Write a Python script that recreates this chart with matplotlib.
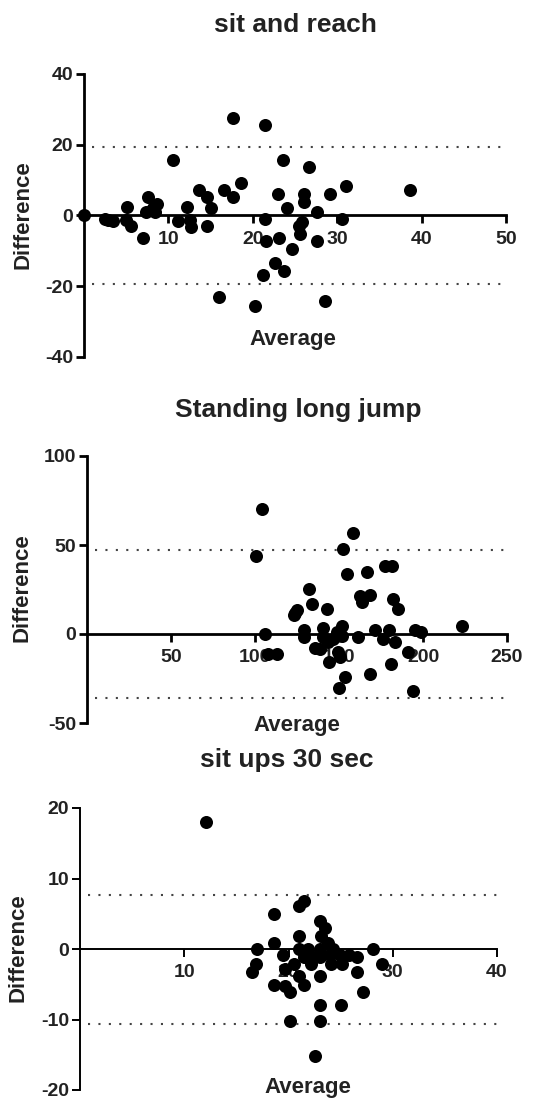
import matplotlib
matplotlib.use('Agg')
import matplotlib.pyplot as plt

plt.rcParams['font.family'] = ['Liberation Sans', 'DejaVu Sans']
plt.rcParams['font.weight'] = 'bold'

W, H = 536, 1100
TEXT = '#222222'

# sit and reach
sr_avg = [0, 2.5, 2.9, 3.4, 5.1, 5.0, 5.6, 7.0, 7.6, 7.4, 8.6, 8.4, 8.2, 10.5, 11.1,
          12.2, 12.5, 12.7, 13.6, 14.6, 15.0, 14.6, 16.0, 16.6, 17.6, 17.6, 18.6, 20.3,
          21.2, 21.5, 21.5, 21.6, 23.0, 23.1, 22.6, 23.7, 23.6, 24.1, 24.6, 25.5, 25.6,
          25.8, 26.1, 26.1, 26.7, 27.6, 27.6, 28.6, 29.1, 30.6, 31.1, 38.6]
sr_diff = [0, -1, -1.2, -1.5, 2.3, -1.2, -3, -6.3, 5.2, 1, 3.2, 1, 2, 15.6, -1.5,
           2.3, -1.2, -3.2, 7.3, 5.2, 2, -3, -23.1, 7.3, 5.2, 27.5, 9.3, -25.5,
           -16.9, 25.5, -1, -7.1, 6.1, -6.5, -13.4, -15.6, 15.6, 2, -9.5, -2.9, -5.2,
           -1.9, 6.1, 3.9, 13.6, 1, -7.1, -24.1, 6.1, -1, 8.3, 7.1]
sr_loa = [19.3, -19.5]

# standing long jump
slj_avg = [104.3, 100.4, 106.2, 107.9, 112.9, 123.4, 124.8, 124.0, 132.3, 134.1,
           129.1, 129.1, 135.7, 138.7, 142.7, 140.7, 140.7, 143.7, 144.2, 146.6,
           149.0, 151.6, 151.6, 149.6, 150.6, 152.6, 154.6, 153.6, 150.2, 158.2,
           161.5, 162.5, 163.5, 166.5, 168.5, 168.5, 171.5, 176.0, 177.4, 181.4,
           179.5, 182.4, 185.4, 183.4, 180.8, 191.3, 194.3, 195.3, 198.7, 223.1]
slj_diff = [70, 43.9, 0, -11, -11, 10.4, 13.7, 12, 25.3, 16.9,
            2.4, -1.7, -7.8, -8.2, 14.1, 3.3, -1.7, -4.5, -15.6, -2.8,
            0.9, 4.6, -0.9, -10.1, -12.9, 47.7, 33.7, -24, -30.2, 57,
            -1.7, 21.6, 17.9, 35, 21.9, -22.7, 2, -2.8, 38, 38,
            2, 19.7, 14.1, -4.5, -16.6, -10.1, -32, 2.4, 1.1, 4.3]
slj_loa = [47.3, -35.8]

# sit ups 30 sec
su_avg = [12.1, 16.5, 16.9, 17.0, 18.6, 18.6, 18.6, 19.5, 19.7, 19.7, 20.1, 20.1,
          20.5, 21.0, 21.5, 21.0, 21.0, 21.0, 21.5, 21.5, 21.9, 22.2, 23.0, 23.5,
          23.1, 23.0, 23.0, 22.5, 23.0, 23.0, 23.0, 22.5, 23.8, 24.0, 24.3, 24.1,
          24.9, 25.1, 25.0, 25.8, 26.6, 26.6, 27.1, 28.1, 29.0]
su_diff = [18, -3.2, -2.1, 0, 4.9, 0.9, -5.1, -0.9, -2.8, -5.2, -6.1, -10.2,
           -2.1, 6.1, 6.8, 1.9, 0, -3.9, -5.1, -1.2, 0, -2.1, 4, 3,
           1.9, 0, -1.2, -1.2, -3.8, -8, -10.2, -15.2, 0.9, -0.9, 0, -2.1,
           -0.9, -2.1, -8, -0.9, -1.2, -3.2, -6.1, 0, -2.1]
su_loa = [7.7, -10.7]

titles = ['sit and reach', 'Standing long jump', 'sit ups 30 sec']


def px_axes(fig, x0, x1, ytop, ybot):
    # pixel box -> figure fraction
    return fig.add_axes([x0 / W, 1 - ybot / H, (x1 - x0) / W, (ybot - ytop) / H])


def draw_panel(ax, avg, diff, loa, xlim, ylim, xticks, yticks, lw=2.0):
    ax.scatter(avg, diff, s=88, color='black', zorder=3, clip_on=False, linewidths=0)
    for v in loa:
        ax.axhline(v, xmin=0.02, xmax=1.0, color='#444444', lw=1.5,
                   linestyle=(0, (1, 4)), zorder=1)
    ax.set_xlim(*xlim)
    ax.set_ylim(*ylim)
    ax.spines['top'].set_visible(False)
    ax.spines['right'].set_visible(False)
    ax.spines['bottom'].set_position(('data', 0))
    ax.spines['left'].set_linewidth(lw)
    ax.spines['bottom'].set_linewidth(lw)
    ax.set_xticks(xticks)
    ax.set_yticks(yticks)
    ax.set_xticklabels([str(t) for t in xticks])
    ax.set_yticklabels([str(t) for t in yticks])
    ax.tick_params(axis='both', direction='out', length=6, width=lw,
                   labelsize=14, colors='black')
    ax.tick_params(axis='x', pad=5)
    ax.tick_params(axis='y', pad=2)
    for lab in ax.get_xticklabels() + ax.get_yticklabels():
        lab.set_fontweight('bold')
        lab.set_color(TEXT)
    ax.set_facecolor('none')


fig = plt.figure(figsize=(W / 100, H / 100), dpi=100)

ax1 = px_axes(fig, 84, 506, 74, 357)
draw_panel(ax1, sr_avg, sr_diff, sr_loa, (0, 50), (-40, 40),
           [10, 20, 30, 40, 50], [40, 20, 0, -20, -40])

ax2 = px_axes(fig, 87, 507, 456, 723)
draw_panel(ax2, slj_avg, slj_diff, slj_loa, (0, 250), (-50, 100),
           [50, 100, 150, 200, 250], [100, 50, 0, -50])

ax3 = px_axes(fig, 80, 497, 808, 1090)
draw_panel(ax3, su_avg, su_diff, su_loa, (0, 40), (-20, 20),
           [10, 20, 30, 40], [20, 10, 0, -10, -20], lw=1.4)

# titles
for (x, y), t in zip([(295, 25), (298, 410), (287, 760)], titles):
    fig.text(x / W, 1 - y / H, t, ha='center', va='center', fontsize=19,
             fontweight='bold', color=TEXT)

# axis labels
for x, y in [(293, 340), (297, 725), (308, 1087)]:
    fig.text(x / W, 1 - y / H, 'Average', ha='center', va='center', fontsize=16,
             fontweight='bold', color=TEXT)
for x, y in [(23, 215), (22, 588), (18, 948)]:
    fig.text(x / W, 1 - y / H, 'Difference', ha='center', va='center', fontsize=16,
             fontweight='bold', color=TEXT, rotation=90)

fig.savefig('out.png', dpi=100)
